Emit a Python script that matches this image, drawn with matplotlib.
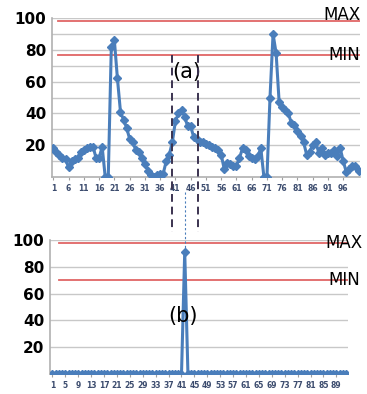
import numpy as np
import matplotlib
matplotlib.use("Agg")
import matplotlib.pyplot as plt

# === データ ===
top_values = [18, 16, 14, 12, 11, 6, 10, 11, 12, 16, 17, 18, 19, 19, 12, 12, 19,
              0, 0, 82, 86, 62, 41, 36, 31, 24, 22, 17, 16, 12, 8, 4, 1,
              0, 1, 2, 2, 10, 14, 22, 35, 40, 42, 38, 32, 32, 25, 24, 22,
              22, 21, 20, 19, 18, 17, 14, 5, 9, 8, 7, 7, 12, 18, 17, 13, 12, 11, 13, 18,
              0, 0, 50, 90, 78, 47, 44, 42, 40, 34, 33, 29, 26, 22, 14, 16, 20, 22, 15,
              18, 14, 15, 15, 17, 13, 18, 10, 3, 5, 7, 7, 4]
top_x = np.arange(1, len(top_values) + 1)

bottom_values = [0] * 41 + [91] + [0] * 50
bottom_x = np.arange(1, len(bottom_values) + 1)

top_max, top_min = 98, 77
bottom_max, bottom_min = 98, 70
window_a = [40, 48.5]      # (a) の範囲
spike_x = 42               # (b) のピーク

yticks = [20, 40, 60, 80, 100]

BLUE = "#4a7ebb"
RED = "#e06666"
GRID = "#c8c8c8"
DASH = "#3b3350"

fig = plt.figure(figsize=(3.67, 3.94), dpi=100)
ax1 = fig.add_axes([0.142, 0.551, 0.839, 0.403])
ax2 = fig.add_axes([0.136, 0.051, 0.812, 0.340])


def style_axis(ax, xticks, minor_grid):
    ax.set_ylim(0, 100)
    ax.set_yticks(yticks)
    ax.set_yticklabels([str(v) for v in yticks], fontsize=11, fontweight="bold")
    if minor_grid:
        ax.set_yticks(np.arange(10, 100, 10), minor=True)
        ax.grid(axis="y", which="minor", color=GRID, lw=1)
    ax.grid(axis="y", which="major", color=GRID, lw=1)
    ax.set_axisbelow(True)
    ax.set_xticks(xticks)
    ax.set_xticklabels([str(v) for v in xticks], fontsize=5.5,
                       fontweight="bold", color="#3c4c6e")
    ax.tick_params(axis="y", length=0, pad=4)
    ax.tick_params(axis="x", length=2, color="#a0a0a0", pad=3)
    ax.tick_params(axis="y", which="minor", length=0)
    for s in ["top", "right"]:
        ax.spines[s].set_visible(False)
    for s in ["left", "bottom"]:
        ax.spines[s].set_color("#b0b0b0")
        ax.spines[s].set_linewidth(1.2)


# --- 上のグラフ ---
ax1.plot(top_x, top_values, color=BLUE, lw=2.2, marker="D", ms=3.8, zorder=3)
ax1.set_xlim(0.6, 101.5)
style_axis(ax1, np.arange(1, 100, 5), True)
ax1.axhline(top_max, xmin=0.02, color=RED, lw=1.3, zorder=2)
ax1.axhline(top_min, xmin=0.02, color=RED, lw=1.3, zorder=2)
ax1.text(1.0, top_max + 4, "MAX", transform=ax1.get_yaxis_transform(),
         ha="right", va="center", fontsize=12, clip_on=False)
ax1.text(1.0, top_min, "MIN", transform=ax1.get_yaxis_transform(),
         ha="right", va="center", fontsize=12, clip_on=False)
for xv in window_a:
    ax1.plot([xv, xv], [top_min, -35], color=DASH, lw=1.4, ls=(0, (4, 2.5)),
             clip_on=False, zorder=4)
ax1.text(np.mean(window_a) + 0.5, 66, "(a)", ha="center", va="center", fontsize=15)

# --- 下のグラフ ---
ax2.plot(bottom_x, bottom_values, color=BLUE, lw=2.2, marker="D", ms=3.8, zorder=3)
ax2.set_xlim(0.2, 92.6)
style_axis(ax2, np.arange(1, 90, 4), False)
ax2.axhline(bottom_max, xmin=0.03, color=RED, lw=1.3, zorder=2)
ax2.axhline(bottom_min, xmin=0.03, color=RED, lw=1.3, zorder=2)
ax2.text(1.05, bottom_max, "MAX", transform=ax2.get_yaxis_transform(),
         ha="right", va="center", fontsize=12, clip_on=False)
ax2.text(1.04, bottom_min, "MIN", transform=ax2.get_yaxis_transform(),
         ha="right", va="center", fontsize=12, clip_on=False)
ax2.plot([spike_x, spike_x], [max(bottom_values), 137], color=BLUE, lw=0.8,
         ls=(0, (2, 2)), clip_on=False)
ax2.text(spike_x - 0.5, 43, "(b)", ha="center", va="center", fontsize=15)

fig.savefig("out.png", dpi=100)
